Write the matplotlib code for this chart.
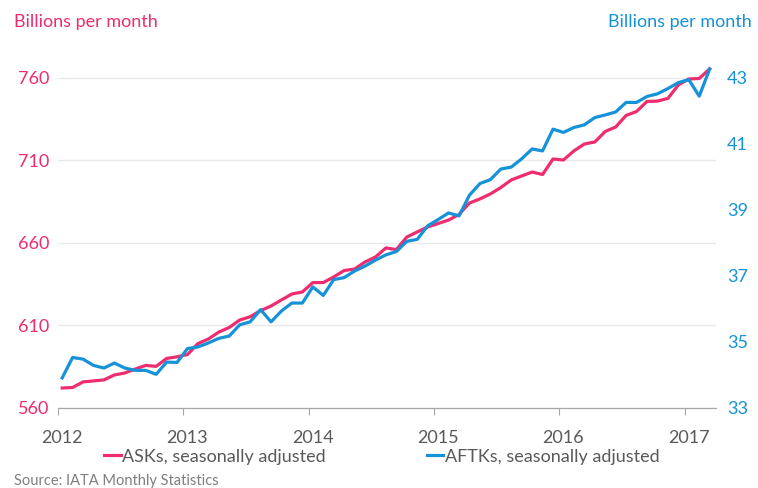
import numpy as np
import matplotlib.pyplot as plt

plt.rcParams['font.family'] = ['Lato', 'DejaVu Sans']

# monthly, Jan 2012 .. Mar 2017
asks = [572.1, 572.4, 575.8, 576.4, 577.0, 580.0, 581.2, 583.6, 585.8, 585.2,
        590.0, 591.0, 592.4, 599.0, 601.8, 606.0, 608.8, 613.3, 615.3, 619.0,
        621.8, 625.5, 629.1, 630.3, 636.0, 636.0, 639.4, 643.3, 644.2, 648.5,
        651.5, 657.0, 656.0, 663.6, 666.7, 669.7, 671.8, 673.9, 677.3, 684.2,
        686.7, 689.7, 693.6, 698.2, 700.6, 703.0, 701.5, 710.9, 710.3, 715.8,
        720.0, 721.2, 727.6, 730.3, 737.3, 739.7, 745.8, 746.0, 747.6, 755.8,
        759.4, 759.7, 765.5]
aftks = [33.91, 34.53, 34.48, 34.29, 34.21, 34.36, 34.21, 34.14, 34.14, 34.02,
         34.39, 34.38, 34.80, 34.85, 34.97, 35.11, 35.18, 35.52, 35.61, 35.98,
         35.61, 35.94, 36.18, 36.18, 36.67, 36.41, 36.89, 36.95, 37.15, 37.30,
         37.48, 37.64, 37.74, 38.05, 38.11, 38.52, 38.71, 38.91, 38.82, 39.45,
         39.80, 39.92, 40.24, 40.30, 40.55, 40.85, 40.79, 41.45, 41.35, 41.50,
         41.58, 41.80, 41.88, 41.97, 42.26, 42.26, 42.44, 42.52, 42.68, 42.86,
         42.95, 42.45, 43.27]
years = ['2012', '2013', '2014', '2015', '2016', '2017']
left_ticks = [560, 610, 660, 710, 760]
right_ticks = [33, 35, 37, 39, 41, 43]

pink = '#EE2C6E'
blue = '#1592D8'
grey = '#595959'

x = np.arange(len(asks))

fig = plt.figure(figsize=(7.58, 4.88), dpi=100)
ax = fig.add_axes([0.0765, 0.164, 0.868, 0.710])
ax2 = ax.twinx()

l1, = ax.plot(x, asks, color=pink, lw=2.3, clip_on=False, zorder=3,
              label='ASKs, seasonally adjusted')
l2, = ax2.plot(x, aftks, color=blue, lw=2.3, clip_on=False, zorder=3,
               label='AFTKs, seasonally adjusted')

ax.set_xlim(-0.4, 62.6)
ax.set_ylim(560, 770)
ax2.set_ylim(33, 43.5)

ax.set_yticks(left_ticks)
ax.set_yticklabels([str(t) for t in left_ticks], color=pink, fontsize=13)
ax2.set_yticks(right_ticks)
ax2.set_yticklabels([str(t) for t in right_ticks], color=blue, fontsize=13)
ax.tick_params(axis='y', length=0, pad=6)
ax2.tick_params(axis='y', length=0, pad=8)

ax.set_xticks([12 * i - 0.4 for i in range(6)])
ax.set_xticklabels([''] * 6)
ax.set_xticks([12 * i for i in range(6)], minor=True)
ax.set_xticklabels(years, minor=True, color=grey, fontsize=13)
ax.tick_params(axis='x', which='major', length=5, color='#A6A6A6', direction='out')
ax.tick_params(axis='x', which='minor', length=0, pad=16)

ax.grid(axis='y', color='#E9E9E9', lw=1)
ax.set_axisbelow(True)
for a in (ax, ax2):
    for s in ['top', 'left', 'right']:
        a.spines[s].set_visible(False)
    a.spines['bottom'].set_color('#A6A6A6')

fig.text(0.018, 0.955, 'Billions per month', color=pink, fontsize=13, va='center')
fig.text(0.992, 0.955, 'Billions per month', color=blue, fontsize=13,
         va='center', ha='right')
fig.text(0.018, 0.006, 'Source: IATA Monthly Statistics', color='#7F7F7F', fontsize=10.5)

fig.legend(handles=[l1, l2], loc='center', bbox_to_anchor=(0.504, 0.064), ncol=2,
           frameon=False, fontsize=13, handlelength=0.9, handletextpad=0.1,
           columnspacing=5.6, labelcolor=grey)

fig.savefig('out.png', dpi=100)
